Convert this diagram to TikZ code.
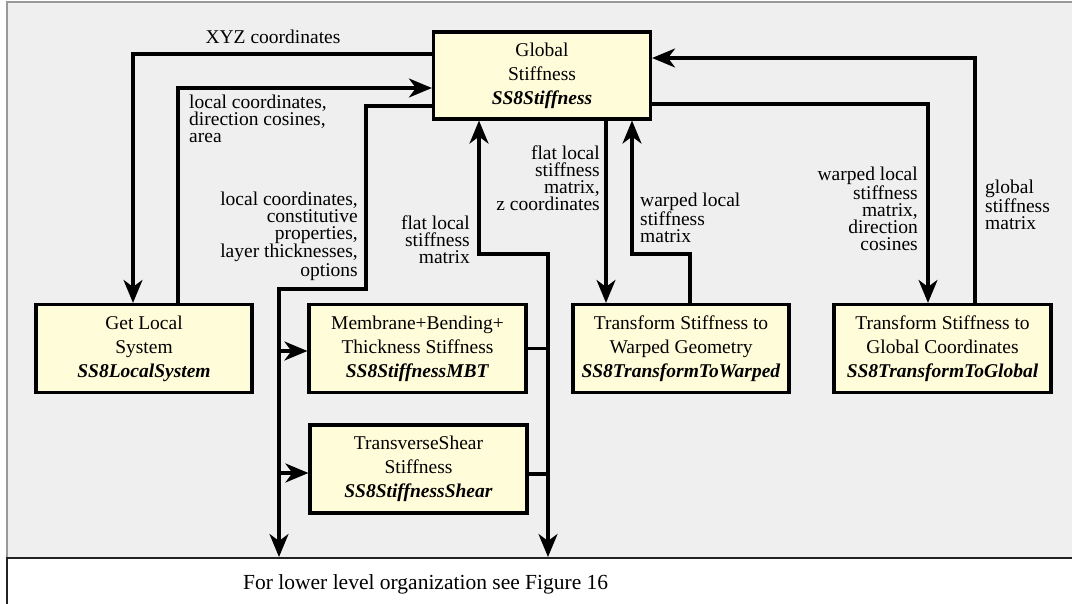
\documentclass[tikz,border=0pt]{standalone}
\usepackage{fontspec}
\setmainfont{Liberation Serif}
\usetikzlibrary{arrows.meta}
\definecolor{bggray}{HTML}{EFEFEF}
\definecolor{framegray}{HTML}{999999}
\definecolor{framedark}{HTML}{222222}
\definecolor{boxfill}{HTML}{FFFCDA}
\tikzset{
  procbox/.style={draw=black, fill=boxfill, line width=3.2pt, inner sep=0pt,
    minimum width=217pt, minimum height=88pt, align=center,
    font=\fontsize{19.5}{24}\selectfont},
  lbl/.style={inner sep=0pt, font=\fontsize{19.5}{17}\selectfont},
  conn/.style={line width=3.2pt},
  arr/.style={conn, -{Stealth[length=23pt,width=19pt,inset=7pt]}},
  dblarr/.style={conn, {Stealth[length=23pt,width=19pt,inset=7pt]}-{Stealth[length=23pt,width=19pt,inset=7pt]}}
}
\begin{document}
\begin{tikzpicture}[x=1pt,y=-1pt]
\useasboundingbox (0,0) rectangle (1072,604);
% frame
\fill[bggray] (7,2) rectangle (1072,558);
\draw[framegray, line width=1.8pt] (7,558) -- (7,2) -- (1072,2);
\draw[framedark, line width=2.2pt] (7,604) -- (7,558) -- (1072,558);

% boxes
\node[procbox, minimum height=87pt] (G) at (542,75.5) {Global\\Stiffness\\\textbf{\textit{SS8Stiffness}}};
\node[procbox, minimum width=216pt] (L) at (144,348.5) {Get Local\\System\\\textbf{\textit{SS8LocalSystem}}};
\node[procbox] (M) at (417.5,348.5) {Membrane+Bending+\\Thickness Stiffness\\\textbf{\textit{SS8StiffnessMBT}}};
\node[procbox] (S) at (418.5,469) {TransverseShear\\Stiffness\\\textbf{\textit{SS8StiffnessShear}}};
\node[procbox, minimum width=216pt] (W) at (681,348.5) {Transform Stiffness to\\Warped Geometry\\\textbf{\textit{SS8TransformToWarped}}};
\node[procbox] (C) at (942.5,348.5) {Transform Stiffness to\\Global Coordinates\\\textbf{\textit{SS8TransformToGlobal}}};

% junction / end coordinates
\coordinate (b1) at (279,557);
\coordinate (b2) at (548,557);
\coordinate (t1) at (366,289);
\coordinate (j1) at (548,254);
\coordinate (j2) at (632,254);
\coordinate (mw) at ([yshift=-2.5pt]M.west);
\coordinate (sw) at ([yshift=-4pt]S.west);
\coordinate (se) at ([yshift=-5pt]S.east);

% connectors
\draw[arr] ([yshift=21.5pt]G.west) -| ([xshift=-11pt]L.north);
\draw[arr] ([xshift=34pt]L.north) |- ([yshift=-12.5pt]G.west);
\draw[arr] ([yshift=-30.5pt]G.west) -| (t1) -| (b1);
\draw[arr] (b1 |- mw) -- (mw);
\draw[arr] (b1 |- sw) -- (sw);
\draw[dblarr] (b2) -- (j1) -| ([xshift=-63pt]G.south);
\draw[conn] (M.east) -- (M.east -| b2);
\draw[conn] (se) -- (se -| b2);
\draw[arr] ([xshift=64pt]G.south) -- ([xshift=-75pt]W.north);
\draw[arr] ([xshift=9pt]W.north) |- (j2) -- ([xshift=90pt]G.south);
\draw[arr] ([yshift=-28.5pt]G.east) -| ([xshift=-14.5pt]C.north);
\draw[arr] ([xshift=32.5pt]C.north) |- ([yshift=17.5pt]G.east);

% labels
\node[lbl] (l1) at (273,37) {XYZ coordinates};
\node[lbl, anchor=west, align=left] (l2) at (189,119) {local coordinates,\\direction cosines,\\area};
\node[lbl, anchor=east, align=right] (l3) at (358,236) {local coordinates,\\constitutive\\properties,\\layer thicknesses,\\options};
\node[lbl, anchor=east, align=right] (l4) at (470,240) {flat local\\stiffness\\matrix};
\node[lbl, anchor=east, align=right] (l5) at (600,178.5) {flat local\\stiffness\\matrix,\\z coordinates};
\node[lbl, anchor=west, align=left] (l6) at (640,218) {warped local\\stiffness\\matrix};
\node[lbl, anchor=east, align=right] (l7) at (918,209) {warped local\\stiffness\\matrix,\\direction\\cosines};
\node[lbl, anchor=west, align=left] (l8) at (985,205) {global\\stiffness\\matrix};
\node[lbl, anchor=west, font=\fontsize{21.5}{24}\selectfont] (l9) at (243,584) {For lower level organization see Figure 16};
\end{tikzpicture}
\end{document}
